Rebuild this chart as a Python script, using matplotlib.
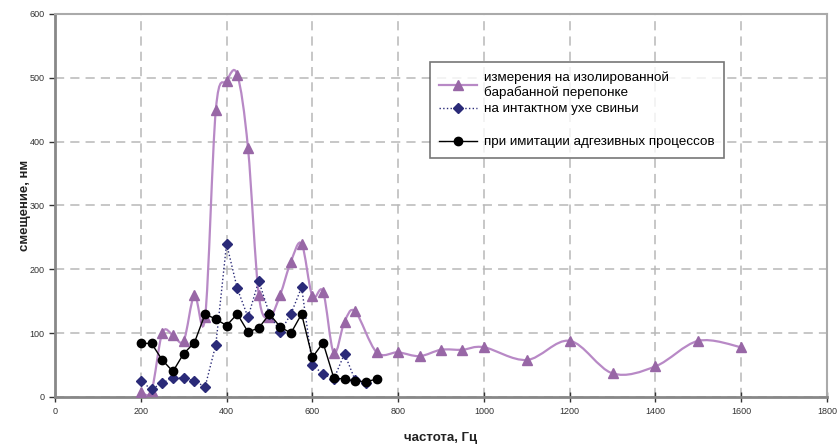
import matplotlib
matplotlib.use("Agg")
import matplotlib.pyplot as plt
from matplotlib.path import Path
from matplotlib.patches import PathPatch
import numpy as np

plt.rcParams['font.family'] = ['Liberation Sans', 'DejaVu Sans']

# data
# isolated eardrum (pink, smoothed)
f_iso = [200, 225, 250, 275, 300, 325, 350, 375, 400, 425, 450, 475, 500, 525, 550,
         575, 600, 625, 650, 675, 700, 750, 800, 850, 900, 950, 1000, 1100, 1200,
         1300, 1400, 1500, 1600]
d_iso = [8, 10, 100, 97, 88, 160, 125, 450, 495, 505, 390, 160, 125, 160, 212,
         240, 158, 165, 69, 118, 134, 70, 70, 64, 74, 74, 78, 58, 88,
         37, 48, 88, 78]

# intact pig ear (blue, dotted)
f_pig = [200, 225, 250, 275, 300, 325, 350, 375, 400, 425, 450, 475, 500, 525, 550,
         575, 600, 625, 650, 675, 700, 725]
d_pig = [25, 12, 22, 30, 30, 25, 16, 82, 240, 170, 125, 182, 130, 102, 130,
         172, 50, 36, 28, 68, 26, 22]

# adhesive processes (black)
f_adh = [200, 225, 250, 275, 300, 325, 350, 375, 400, 425, 450, 475, 500, 525, 550,
         575, 600, 625, 650, 675, 700, 725, 750]
d_adh = [84, 84, 58, 40, 68, 85, 130, 122, 112, 130, 102, 108, 130, 110, 100,
         130, 62, 85, 30, 28, 25, 24, 28]

lab_iso = "измерения на изолированной\nбарабанной перепонке"
lab_pig = "на интактном ухе свиньи"
lab_adh = "при имитации адгезивных процессов"

pink_line = '#b889c6'
pink_mark = '#9867a6'
navy = '#2a2a78'


def smooth_path(x, y):
    # excel-like smoothed line: catmull-rom as cubic bezier
    pts = np.column_stack([x, y]).astype(float)
    verts = [pts[0]]
    codes = [Path.MOVETO]
    n = len(pts)
    for i in range(n - 1):
        p0 = pts[i - 1] if i > 0 else pts[i]
        p1 = pts[i]
        p2 = pts[i + 1]
        p3 = pts[i + 2] if i + 2 < n else pts[i + 1]
        c1 = p1 + (p2 - p0) / 6.0
        c2 = p2 - (p3 - p1) / 6.0
        verts += [c1, c2, p2]
        codes += [Path.CURVE4] * 3
    return Path(verts, codes)


fig = plt.figure(figsize=(8.38, 4.46), dpi=100)
ax = fig.add_axes([55 / 838, 1 - 397 / 446, (827 - 55) / 838, (397 - 14) / 446])

ax.set_xlim(0, 1800)
ax.set_ylim(0, 600)
ax.set_xticks(np.arange(0, 1801, 200))
ax.set_yticks(np.arange(0, 601, 100))

ax.grid(True, color='#b8b8b8', linestyle=(0, (6, 4)), linewidth=1.1)
ax.set_axisbelow(True)

# pink: smoothed curve + markers
ax.add_patch(PathPatch(smooth_path(f_iso, d_iso), facecolor='none',
                       edgecolor=pink_line, linewidth=1.6, zorder=2))
ax.plot(f_iso, d_iso, linestyle='none', marker='^', markersize=6.5,
        color=pink_mark, zorder=3)
h_iso, = ax.plot([], [], color=pink_line, lw=1.6, marker='^', ms=6.5,
                 mfc=pink_mark, mec=pink_mark)

h_pig, = ax.plot(f_pig, d_pig, color=navy, linestyle=':', linewidth=1.0,
                 marker='D', markersize=5.2, zorder=4)
h_adh, = ax.plot(f_adh, d_adh, color='black', linestyle='-', linewidth=1.0,
                 marker='o', markersize=6, zorder=5)

h_blank, = ax.plot([], [], color='none')

leg = ax.legend([h_iso, h_pig, h_blank, h_adh], [lab_iso, lab_pig, '', lab_adh],
                loc='upper left', bbox_to_anchor=((430 - 55) / 772, 1 - (62 - 14) / 383),
                fontsize=9.7, frameon=True, fancybox=False, borderaxespad=0,
                handlelength=2.8, handletextpad=0.5, labelspacing=0.3,
                borderpad=0.7)
leg.get_frame().set_edgecolor('#555555')
leg.get_frame().set_linewidth(1.2)

for s in ['left', 'bottom']:
    ax.spines[s].set_color('#888888')
    ax.spines[s].set_linewidth(2)
for s in ['top', 'right']:
    ax.spines[s].set_color('#aaaaaa')
    ax.spines[s].set_linewidth(1.5)

ax.tick_params(axis='both', labelsize=6.5, colors='#333333', length=4,
               width=1, direction='out')
ax.tick_params(axis='x', direction='inout', length=7)

ax.set_xlabel('частота, Гц', fontsize=9.5, fontweight='bold', color='#222222', labelpad=12)
ax.set_ylabel('смещение, нм', fontsize=9.5, fontweight='bold', color='#222222', labelpad=-1)

fig.savefig('out.png', dpi=100)
